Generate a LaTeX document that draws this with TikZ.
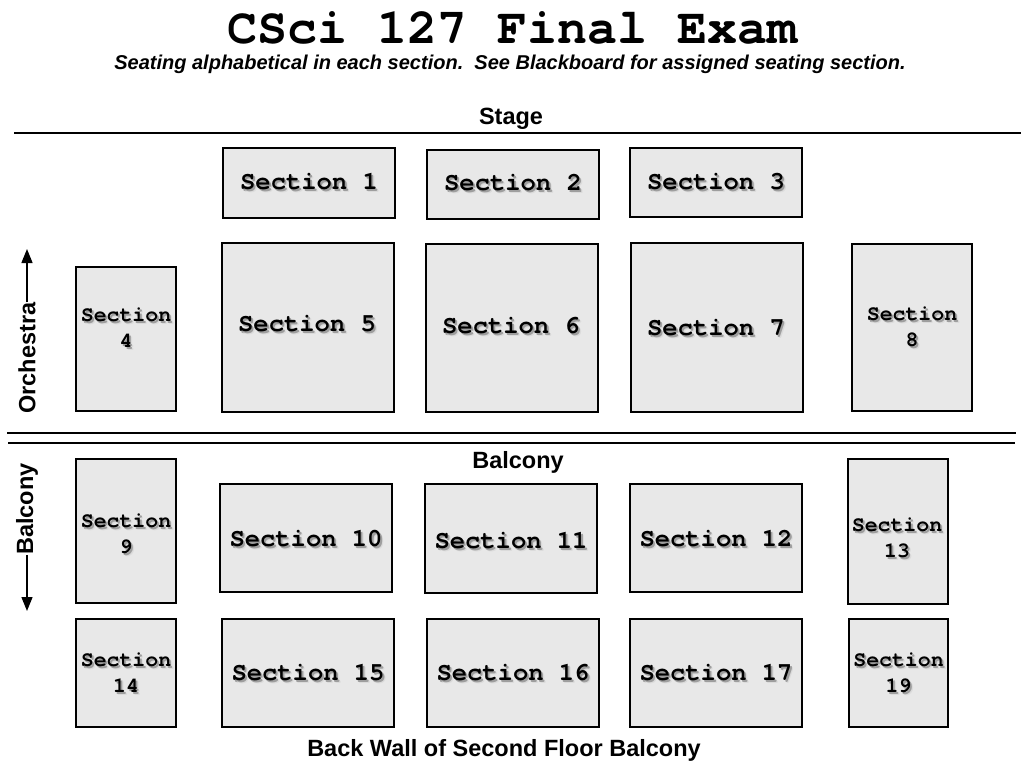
\documentclass[tikz,border=0pt]{standalone}
\usepackage{fontspec}
\setmainfont{Liberation Sans}
\newfontfamily\cour{TeX Gyre Cursor}
\usetikzlibrary{arrows.meta}
\definecolor{boxfill}{HTML}{E8E8E8}
\newcommand{\shd}[1]{\leavevmode\rlap{\kern3pt\raisebox{-3pt}{\textcolor{black!14}{#1}}}\rlap{\kern1.8pt\raisebox{-1.8pt}{\textcolor{black!38}{#1}}}#1}
\tikzset{
  secbox/.style={draw=black, line width=2pt, fill=boxfill, inner sep=0pt, outer sep=0pt},
  biglab/.style={font=\cour\bfseries\fontsize{25.5}{30}\selectfont, inner sep=0pt},
  smalllab/.style={font=\cour\bfseries\fontsize{21.5}{26}\selectfont, inner sep=0pt, align=center},
  heading/.style={font=\bfseries\fontsize{23.5}{27}\selectfont, inner sep=0pt},
  rule/.style={line width=2pt},
  sidearrow/.style={line width=1.4pt, -{Triangle[length=14pt,width=11pt]}}
}
\begin{document}
\begin{tikzpicture}[x=1pt,y=-1pt]
\useasboundingbox (0,0) rectangle (1023,766);
% title
\node[font=\cour\bfseries\fontsize{50}{56}\selectfont, inner sep=0pt] (title) at (512,28) {CSci 127 Final Exam};
\node[font=\bfseries\itshape\fontsize{20}{23}\selectfont, inner sep=0pt] (sub) at (510,64) {Seating alphabetical in each section.\ \ See Blackboard for assigned seating section.};
% stage
\node[heading] (stage) at (511,119) {Stage};
\coordinate (stL) at (14,133); \coordinate (stR) at (1021,133);
\draw[rule] (stL) -- (stR);
% double line
\coordinate (d1L) at (7,433); \coordinate (d1R) at (1016,433);
\coordinate (d2L) at (8,443); \coordinate (d2R) at (1015,443);
\draw[rule] (d1L) -- (d1R);
\draw[rule] (d2L) -- (d2R);
\node[heading] (balc) at (518,462) {Balcony};
\node[heading] (back) at (504,750) {Back Wall of Second Floor Balcony};
% side labels
\node[heading, rotate=90, anchor=center] (orch) at (27,358) {Orchestra};
\coordinate (orchT) at (27,249);
\draw[sidearrow] (orch.east) -- (orchT);
\node[heading, rotate=90, anchor=center] (balcs) at (27,509) {Balcony};
\coordinate (balcB) at (27,611);
\draw[sidearrow] (balcs.west) -- (balcB);
% boxes
\node[secbox, minimum width=172pt, minimum height=70pt] (s1) at (309,183) {};
\node[biglab] (l1) at (309,183) {\shd{Section 1}};
\node[secbox, minimum width=172pt, minimum height=69pt] (s2) at (513,184.5) {};
\node[biglab] (l2) at (513,184) {\shd{Section 2}};
\node[secbox, minimum width=172pt, minimum height=69pt] (s3) at (716,182.5) {};
\node[biglab] (l3) at (716,183) {\shd{Section 3}};
\node[secbox, minimum width=100pt, minimum height=144pt] (s4) at (126,339) {};
\node[smalllab] (l4) at (126,329) {\shd{Section}\\\shd{4}};
\node[secbox, minimum width=172pt, minimum height=169pt] (s5) at (308,327.5) {};
\node[biglab] (l5) at (307,325) {\shd{Section 5}};
\node[secbox, minimum width=172pt, minimum height=168pt] (s6) at (512,328) {};
\node[biglab] (l6) at (511,327) {\shd{Section 6}};
\node[secbox, minimum width=172pt, minimum height=169pt] (s7) at (717,327.5) {};
\node[biglab] (l7) at (716,329) {\shd{Section 7}};
\node[secbox, minimum width=120pt, minimum height=167pt] (s8) at (912,327.5) {};
\node[smalllab] (l8) at (912,328) {\shd{Section}\\\shd{8}};
\node[secbox, minimum width=100pt, minimum height=144pt] (s9) at (126,531) {};
\node[smalllab] (l9) at (126,535) {\shd{Section}\\\shd{9}};
\node[secbox, minimum width=172pt, minimum height=108pt] (s10) at (306,538) {};
\node[biglab] (l10) at (306,540) {\shd{Section 10}};
\node[secbox, minimum width=172pt, minimum height=109pt] (s11) at (511,538.5) {};
\node[biglab] (l11) at (511,542) {\shd{Section 11}};
\node[secbox, minimum width=172pt, minimum height=108pt] (s12) at (716,538) {};
\node[biglab] (l12) at (716,540) {\shd{Section 12}};
\node[secbox, minimum width=100pt, minimum height=145pt] (s13) at (898,531.5) {};
\node[smalllab] (l13) at (897,539) {\shd{Section}\\\shd{13}};
\node[secbox, minimum width=100pt, minimum height=108pt] (s14) at (126,673) {};
\node[smalllab] (l14) at (126,674) {\shd{Section}\\\shd{14}};
\node[secbox, minimum width=172pt, minimum height=108pt] (s15) at (308,673) {};
\node[biglab] (l15) at (308,674) {\shd{Section 15}};
\node[secbox, minimum width=172pt, minimum height=108pt] (s16) at (513,673) {};
\node[biglab] (l16) at (513,674) {\shd{Section 16}};
\node[secbox, minimum width=172pt, minimum height=108pt] (s17) at (716,673) {};
\node[biglab] (l17) at (716,674) {\shd{Section 17}};
\node[secbox, minimum width=99pt, minimum height=108pt] (s19) at (898.5,673) {};
\node[smalllab] (l19) at (898.5,674) {\shd{Section}\\\shd{19}};
\end{tikzpicture}
\end{document}
